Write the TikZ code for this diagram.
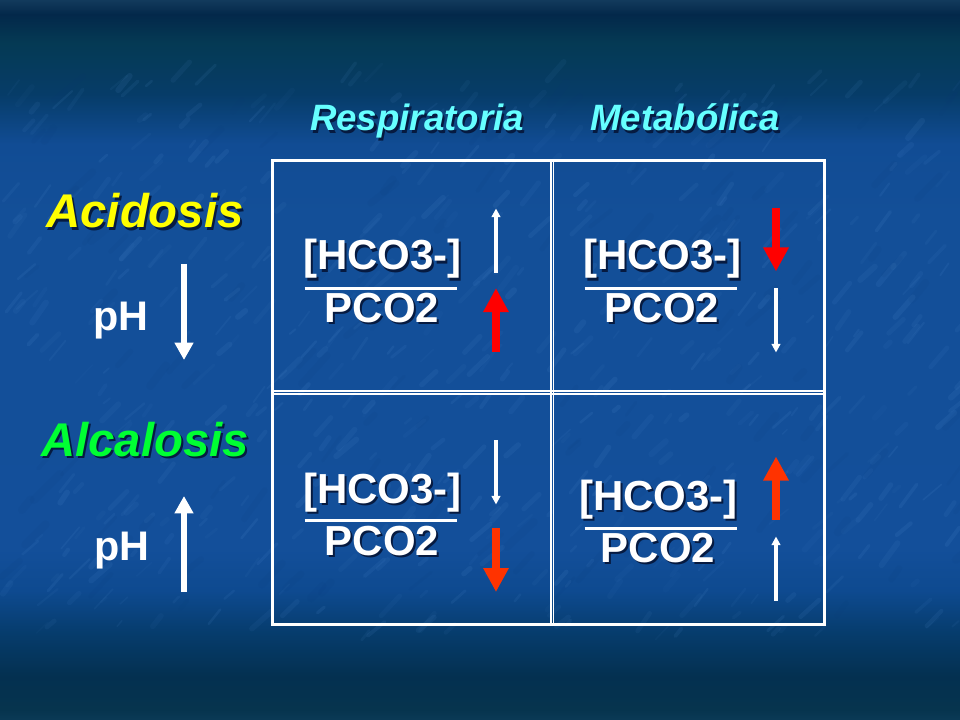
\documentclass[tikz,border=0pt]{standalone}
\usepackage{fontspec}
\setmainfont{Liberation Sans}
\usetikzlibrary{arrows.meta}
\definecolor{shadowc}{HTML}{061A40}
\definecolor{cyanc}{HTML}{66FFFF}
\definecolor{yellowc}{HTML}{FFFF00}
\definecolor{greenc}{HTML}{00FF33}
\definecolor{redc}{HTML}{FF0000}
\definecolor{orangec}{HTML}{FF3300}
\definecolor{streak}{HTML}{6AA5E6}
\definecolor{streakd}{HTML}{0A3A78}
\definecolor{bga}{HTML}{0B3A56}
\definecolor{bgb}{HTML}{06344E}
\definecolor{bgc}{HTML}{043050}
\definecolor{bgd}{HTML}{063C6C}
\definecolor{bge}{HTML}{0E4A90}
\definecolor{bgf}{HTML}{134F9A}
\definecolor{bgg}{HTML}{134F98}
\definecolor{bgh}{HTML}{114C94}
\definecolor{bgi}{HTML}{063C68}
\definecolor{bgj}{HTML}{053A54}
\definecolor{bgk}{HTML}{03284A}
\definecolor{bgl}{HTML}{123A5C}
% the path's height is mapped on the inner 25bp--75bp of the shading
\pgfdeclareverticalshading{bgshade}{100bp}{%
color(0bp)=(bga);
color(25bp)=(bga);
color(25.7bp)=(bgb);
color(28bp)=(bgc);
color(31bp)=(bgd);
color(34bp)=(bge);
color(37bp)=(bgf);
color(60bp)=(bgg);
color(65bp)=(bgh);
color(68.5bp)=(bgi);
color(72bp)=(bgj);
color(74bp)=(bgk);
color(75bp)=(bgl);
color(100bp)=(bgl)}
\newcommand{\shtx}[1]{\rlap{\kern1.6pt\raisebox{-1.6pt}{\color{shadowc}#1}}#1}
\tikzset{
  x=0.75pt,y=-0.75pt,
  cellline/.style={white,line width=1.1pt},
  frameline/.style={white,line width=2.25pt},
  fracline/.style={white,line width=2.2pt},
  thinarrow/.style={white,line width=2.4pt,-{Triangle[length=6.5pt,width=6.5pt]}},
  heavyarrow/.style={#1,line width=6pt,-{Triangle[length=18pt,width=18pt]}},
  pharrow/.style={white,line width=3.8pt,-{Triangle[length=13pt,width=13.5pt]}},
  fractext/.style={anchor=base,inner sep=0pt,text=white,font=\fontsize{31.5}{36}\selectfont\bfseries},
  phtext/.style={anchor=base,inner sep=0pt,text=white,font=\fontsize{31}{36}\selectfont\bfseries},
  headtext/.style={anchor=base,inner sep=0pt,text=cyanc,font=\fontsize{27.5}{32}\selectfont\bfseries\itshape},
  bigtext/.style={anchor=base,inner sep=0pt,text=#1,font=\fontsize{35.5}{40}\selectfont\bfseries\itshape},
}
\begin{document}
\begin{tikzpicture}
\useasboundingbox (0,0) rectangle (960,720);
\shade[shading=bgshade] (0,0) rectangle (960,720);
% background texture: soft diagonal wisps
\pgfmathsetseed{4711}
\begin{scope}
\clip (0,0) rectangle (960,720);
\foreach \i in {1,...,520}{
  \pgfmathsetmacro{\px}{rnd*960}
  \pgfmathsetmacro{\py}{80+rnd*560}
  \pgfmathsetmacro{\sl}{6+rnd*22}
  \pgfmathsetmacro{\an}{38+rnd*18}
  \pgfmathsetmacro{\lw}{1+rnd*3.5}
  \pgfmathsetmacro{\op}{0.03+rnd*0.07}
  \draw[streak,opacity=\op,line width=\lw pt,line cap=round]
    (\px,\py) -- ++({\sl*cos(\an)},{-\sl*sin(\an)});
}
\foreach \i in {1,...,120}{
  \pgfmathsetmacro{\px}{rnd*960}
  \pgfmathsetmacro{\py}{100+rnd*520}
  \pgfmathsetmacro{\sl}{10+rnd*30}
  \pgfmathsetmacro{\an}{38+rnd*18}
  \pgfmathsetmacro{\lw}{2+rnd*4}
  \draw[streakd,opacity=0.08,line width=\lw pt,line cap=round]
    (\px,\py) -- ++({\sl*cos(\an)},{-\sl*sin(\an)});
}
\end{scope}

% table frame
\coordinate (gridT1) at (551,160.7); \coordinate (gridB1) at (551,624.5);
\coordinate (gridT2) at (553.5,160.7); \coordinate (gridB2) at (553.5,624.5);
\coordinate (gridL1) at (272.7,390.8); \coordinate (gridR1) at (824.5,390.8);
\coordinate (gridL2) at (272.7,393.8); \coordinate (gridR2) at (824.5,393.8);
\draw[cellline] (gridT1) -- (gridB1);
\draw[cellline] (gridT2) -- (gridB2);
\draw[cellline] (gridL1) -- (gridR1);
\draw[cellline] (gridL2) -- (gridR2);
\draw[frameline] (272.7,160.7) rectangle (824.5,624.5);

% headings
\node[headtext] (resp) at (417,131) {\shtx{Respiratoria}};
\node[headtext] (meta) at (685,131) {\shtx{Metabólica}};
\node[bigtext=yellowc] (acid) at (145,228) {\shtx{Acidosis}};
\node[bigtext=greenc] (alca) at (145,456) {\shtx{Alcalosis}};
\node[phtext] (ph1) at (121,330) {pH};
\node[phtext] (ph2) at (122,560) {pH};

% pH arrows
\coordinate (pa1s) at (184,264); \coordinate (pa1e) at (184,360);
\coordinate (pa2s) at (184,592); \coordinate (pa2e) at (184,496);
\draw[pharrow] (pa1s) -- (pa1e);
\draw[pharrow] (pa2s) -- (pa2e);

% cell 1
\node[fractext] (n1) at (382.5,270) {\shtx{[HCO3-]}};
\node[fractext] (d1) at (382,322) {\shtx{PCO2}};
\coordinate (f1a) at (304.5,288.3); \coordinate (f1b) at (456.5,288.3);
\draw[fracline] (f1a) -- (f1b);
\coordinate (t1s) at (496,272.7); \coordinate (t1e) at (496,208.5);
\draw[thinarrow] (t1s) -- (t1e);
\coordinate (h1s) at (496,351.7); \coordinate (h1e) at (496,288);
\draw[heavyarrow=redc] (h1s) -- (h1e);

% cell 2
\node[fractext] (n2) at (662.5,270) {\shtx{[HCO3-]}};
\node[fractext] (d2) at (662,322) {\shtx{PCO2}};
\coordinate (f2a) at (584.5,288.3); \coordinate (f2b) at (736.5,288.3);
\draw[fracline] (f2a) -- (f2b);
\coordinate (h2s) at (776,208); \coordinate (h2e) at (776,271.5);
\draw[heavyarrow=redc] (h2s) -- (h2e);
\coordinate (t2s) at (776,288.5); \coordinate (t2e) at (776,352.5);
\draw[thinarrow] (t2s) -- (t2e);

% cell 3
\node[fractext] (n3) at (382.5,503) {\shtx{[HCO3-]}};
\node[fractext] (d3) at (382,555) {\shtx{PCO2}};
\coordinate (f3a) at (304.5,520.3); \coordinate (f3b) at (456.5,520.3);
\draw[fracline] (f3a) -- (f3b);
\coordinate (t3s) at (496,440); \coordinate (t3e) at (496,504.5);
\draw[thinarrow] (t3s) -- (t3e);
\coordinate (h3s) at (496,528); \coordinate (h3e) at (496,592);
\draw[heavyarrow=orangec] (h3s) -- (h3e);

% cell 4
\node[fractext] (n4) at (658.5,510.5) {\shtx{[HCO3-]}};
\node[fractext] (d4) at (658,562) {\shtx{PCO2}};
\coordinate (f4a) at (584.5,528.3); \coordinate (f4b) at (736.5,528.3);
\draw[fracline] (f4a) -- (f4b);
\coordinate (h4s) at (776,520); \coordinate (h4e) at (776,456.5);
\draw[heavyarrow=orangec] (h4s) -- (h4e);
\coordinate (t4s) at (776,600.5); \coordinate (t4e) at (776,536.5);
\draw[thinarrow] (t4s) -- (t4e);
\end{tikzpicture}
\end{document}
